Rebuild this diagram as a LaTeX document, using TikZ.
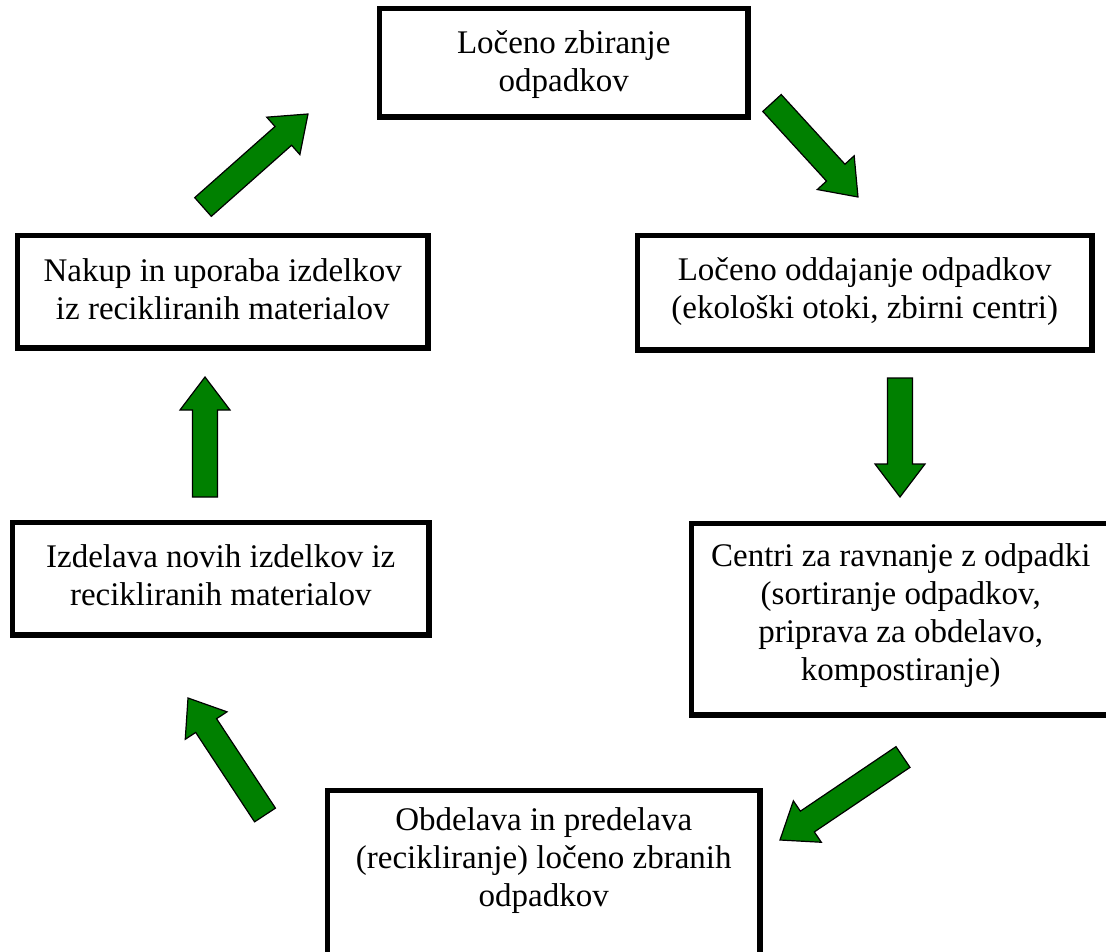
\documentclass[tikz,border=0pt]{standalone}
\usepackage{fontspec}
\setmainfont{Liberation Serif}
\usepackage{tikz}
\usetikzlibrary{calc}
\definecolor{cyclegreen}{RGB}{0,128,0}
% text block with fixed size, set to the top
\newcommand{\boxtxt}[4][22pt]{\parbox[c][#2][t]{#3}{\centering\vspace*{#1}#4}}
% block arrow from tail #1 to tip #2
\newcommand{\bigarrow}[2]{%
  \coordinate (hb) at ($(#2)!33pt!(#1)$);
  \draw[blockarrow] ($(#1)!12.5pt!90:(#2)$) -- ($(hb)!12.5pt!90:(#2)$) --
    ($(hb)!25pt!90:(#2)$) -- (#2) -- ($(hb)!25pt!-90:(#2)$) --
    ($(hb)!12.5pt!-90:(#2)$) -- ($(#1)!12.5pt!-90:(#2)$) -- cycle;}

\begin{document}
\begin{tikzpicture}[x=1pt,y=-1pt,
  every node/.style={font=\fontsize{33}{38}\selectfont},
  box/.style={draw,line width=5.5pt,inner sep=0pt,anchor=north west},
  blockarrow/.style={draw=black,fill=cyclegreen,line width=1.2pt,line join=miter}
]
  \useasboundingbox (0,0) rectangle (1106,952);
  \node[box] (zbiranje) at (376.75,5.75)
    {\boxtxt{108.5pt}{368.5pt}{Ločeno zbiranje\\odpadkov}};
  \node[box] (oddajanje) at (634.75,232.75)
    {\boxtxt{114.5pt}{454.5pt}{Ločeno oddajanje odpadkov\\(ekološki otoki, zbirni centri)}};
  \node[box] (centri) at (688.75,520.75)
    {\boxtxt[20pt]{191.5pt}{418.5pt}{Centri za ravnanje z odpadki\\(sortiranje odpadkov,\\priprava za obdelavo,\\kompostiranje)}};
  \node[box] (obdelava) at (324.75,787.75)
    {\boxtxt[17pt]{164.5pt}{432.5pt}{Obdelava in predelava\\(recikliranje) ločeno zbranih\\odpadkov}};
  \node[box] (izdelava) at (9.75,519.75)
    {\boxtxt{112.5pt}{416.5pt}{Izdelava novih izdelkov iz\\recikliranih materialov}};
  \node[box] (nakup) at (14.75,232.75)
    {\boxtxt[23pt]{112.5pt}{410.5pt}{Nakup in uporaba izdelkov\\iz recikliranih materialov}};
  % arrow ends
  \coordinate (a1s) at (203,207);  \coordinate (a1t) at (308,114);
  \coordinate (a2s) at (772,103);  \coordinate (a2t) at (858,197);
  \coordinate (a3s) at (900,378);  \coordinate (a3t) at (900,497);
  \coordinate (a4s) at (903,757);  \coordinate (a4t) at (780,840);
  \coordinate (a5s) at (265,815);  \coordinate (a5t) at (188,698);
  \coordinate (a6s) at (205,497);  \coordinate (a6t) at (205,377);
  \bigarrow{a1s}{a1t}
  \bigarrow{a2s}{a2t}
  \bigarrow{a3s}{a3t}
  \bigarrow{a4s}{a4t}
  \bigarrow{a5s}{a5t}
  \bigarrow{a6s}{a6t}
\end{tikzpicture}
\end{document}
